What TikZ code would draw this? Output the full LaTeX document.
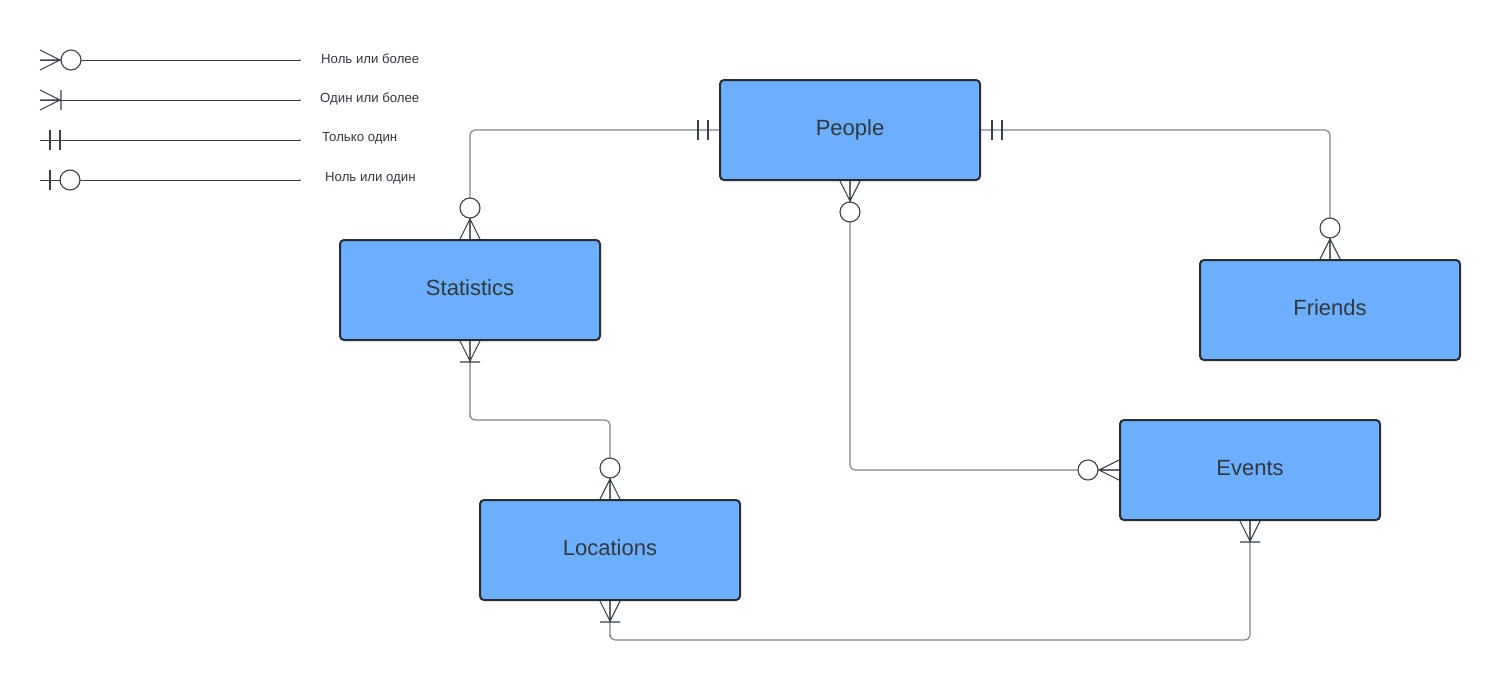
\documentclass[tikz,border=0pt]{standalone}
\usepackage{fontspec}
\setmainfont{Liberation Sans}
\definecolor{boxfill}{HTML}{6CAFFF}
\definecolor{boxline}{HTML}{282C33}
\definecolor{txt}{HTML}{333840}
\definecolor{symc}{HTML}{3A4049}
\definecolor{conc}{HTML}{80858C}
\newcommand{\etext}[1]{\raisebox{5pt}{#1}}
\tikzset{
  entity/.style={draw=boxline, line width=2pt, fill=boxfill, rounded corners=4pt,
    minimum width=260pt, minimum height=100pt, inner sep=0pt,
    text=txt, font=\fontsize{22}{25}\selectfont},
  conn/.style={draw=conc, line width=1.2pt, rounded corners=5pt},
  sym/.style={draw=symc, line width=1.1pt},
  legline/.style={draw=symc, line width=0.9pt},
  legtext/.style={anchor=west, text=txt, font=\fontsize{13.2}{15}\selectfont, inner sep=0pt},
  zeromany/.pic={\draw[sym] (0,10)--(20,0)--(0,-10) (0,0)--(21,0); \draw[sym,fill=white] (31,0) circle[radius=10pt];},
  onemany/.pic={\draw[sym] (0,10)--(20,0)--(0,-10) (0,0)--(21,0) (21,10)--(21,-10);},
  onlyone/.pic={\draw[sym] (11,10)--(11,-10) (21,10)--(21,-10);},
  zeroone/.pic={\draw[sym] (10,10)--(10,-10); \draw[sym,fill=white] (30,0) circle[radius=10pt];},
}
\begin{document}
\begin{tikzpicture}[x=1pt,y=-1pt]
\useasboundingbox[fill=white] (0,0) rectangle (1500,681);

% entities
\node[entity] (people) at (850,130) {\etext{People}};
\node[entity] (stat) at (470,290) {\etext{Statistics}};
\node[entity] (friends) at (1330,310) {\etext{Friends}};
\node[entity] (events) at (1250,470) {\etext{Events}};
\node[entity] (loc) at (610,550) {\etext{Locations}};

% connectors
\draw[conn] (people.west) -| (stat.north);
\draw[conn] (people.east) -| (friends.north);
\draw[conn] (people.south) |- (events.west);
\coordinate (sl) at (470,420);
\draw[conn] (stat.south) |- (sl) -| (loc.north);
\coordinate (le) at (610,640);
\draw[conn] (loc.south) |- (le) -| (events.south);

% symbols
\pic[rotate=180] at (people.west) {onlyone};
\pic[rotate=90] at (stat.north) {zeromany};
\pic at (people.east) {onlyone};
\pic[rotate=90] at (friends.north) {zeromany};
\pic[rotate=-90] at (people.south) {zeromany};
\pic[rotate=180] at (events.west) {zeromany};
\pic[rotate=-90] at (stat.south) {onemany};
\pic[rotate=90] at (loc.north) {zeromany};
\pic[rotate=-90] at (loc.south) {onemany};
\pic[rotate=-90] at (events.south) {onemany};

% legend
\foreach \y/\k in {60/a,100/b,140/c,180/d}{
  \coordinate (l\k s) at (40,\y);
  \coordinate (l\k e) at (300,\y);
  \draw[legline] (l\k s) -- (l\k e);
  \fill[symc] (l\k e) circle[radius=0.8pt];
}
\pic at (las) {zeromany};
\pic at (lbs) {onemany};
\pic at ([xshift=-1pt]lcs) {onlyone};
\pic at (lds) {zeroone};
\node[legtext] (ta) at (321,58.5) {Ноль или более};
\node[legtext] (tb) at (320,98.5) {Один или более};
\node[legtext] (tc) at (322,138.5) {Только один};
\node[legtext] (td) at (325,178.5) {Ноль или один};
\end{tikzpicture}
\end{document}
